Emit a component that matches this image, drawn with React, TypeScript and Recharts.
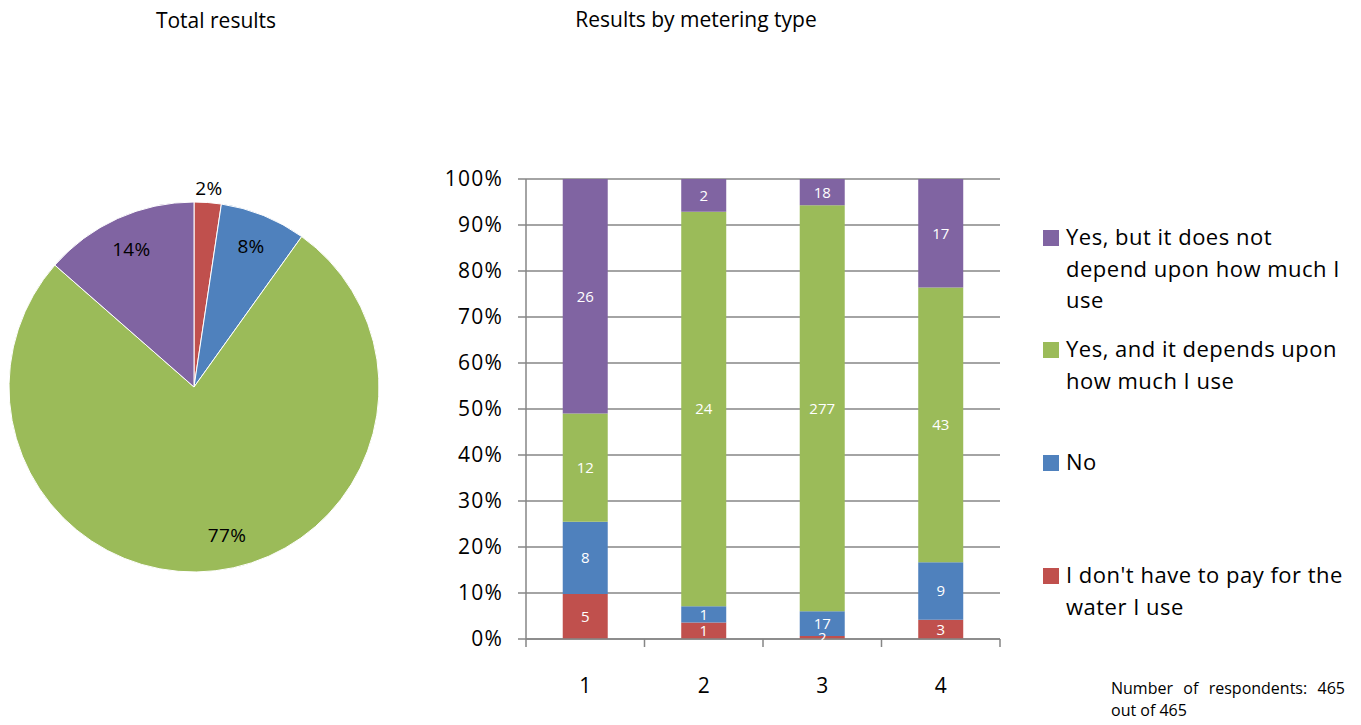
import React from "react";
import { PieChart, Pie, Cell, BarChart, Bar, XAxis, YAxis, CartesianGrid, LabelList } from "recharts";

const FONT = "'Open Sans', Lato, sans-serif";

const categories = ["1", "2", "3", "4"];
const noPay = [5, 1, 2, 3];
const no = [8, 1, 17, 9];
const yesDepends = [12, 24, 277, 43];
const yesNotDepends = [26, 2, 18, 17];

const seriesNames = [
  "Yes, but it does not depend upon how much I use",
  "Yes, and it depends upon how much I use",
  "No",
  "I don't have to pay for the water I use",
];

const pieLabels = ["2%", "8%", "77%", "14%"];

const COLORS = {
  noPay: "#C0504D",
  no: "#4F81BD",
  yesDepends: "#9BBB59",
  yesNotDepends: "#8064A2",
};

const barData = categories.map((c, i) => ({
  name: c,
  noPay: noPay[i],
  no: no[i],
  yesDepends: yesDepends[i],
  yesNotDepends: yesNotDepends[i],
}));

const sum = (a: number[]) => a.reduce((s, v) => s + v, 0);
const pieData = [
  { name: seriesNames[3], value: sum(noPay), color: COLORS.noPay },
  { name: seriesNames[2], value: sum(no), color: COLORS.no },
  { name: seriesNames[1], value: sum(yesDepends), color: COLORS.yesDepends },
  { name: seriesNames[0], value: sum(yesNotDepends), color: COLORS.yesNotDepends },
];

const RAD = Math.PI / 180;

// excel's best-fit puts the big slice label a bit off the mid angle
const renderPieLabel = (props: any) => {
  const { cx, cy, midAngle, outerRadius, percent, index } = props;
  const outside = percent < 0.05;
  const r = outside ? outerRadius + 15 : outerRadius * 0.82;
  const a = percent > 0.5 ? midAngle + 6 : midAngle;
  const x = cx + r * Math.cos(-a * RAD);
  const y = cy + r * Math.sin(-a * RAD);
  return (
    <text x={x} y={y} textAnchor="middle" dominantBaseline="central" fill="#000" fontSize={19} letterSpacing={0.3} fontFamily={FONT}>
      {pieLabels[index]}
    </text>
  );
};

const XTick = (props: any) => {
  const { x, y, payload, index } = props;
  const half = 474 / 4 / 2;
  return (
    <g>
      <line x1={x - half} y1={y - 8} x2={x - half} y2={y} stroke="#868686" strokeWidth={1.5} />
      {index === categories.length - 1 && (
        <line x1={x + half} y1={y - 8} x2={x + half} y2={y} stroke="#868686" strokeWidth={1.5} />
      )}
      <text x={x} y={y + 46} textAnchor="middle" fontSize={21} fill="#000" fontFamily={FONT}>
        {payload.value}
      </text>
    </g>
  );
};

const legendItems = [
  { text: ["Yes, but it does not", "depend upon how much I", "use"], color: COLORS.yesNotDepends, top: 222 },
  { text: ["Yes, and it depends upon", "how much I use"], color: COLORS.yesDepends, top: 334 },
  { text: ["No"], color: COLORS.no, top: 447 },
  { text: ["I don't have to pay for the", "water I use"], color: COLORS.noPay, top: 560 },
];

const labelStyle = { fill: "#fff", fontSize: 15, fontFamily: FONT };

export default function App() {
  return (
    <div style={{ position: "absolute", left: 0, top: 0, width: 1361, height: 725, background: "#fff", fontFamily: FONT, overflow: "hidden" }}>
      <div style={{ position: "absolute", left: 66, top: 6, width: 300, textAlign: "center", fontSize: 21, color: "#000" }}>
        Total results
      </div>
      <div style={{ position: "absolute", left: 546, top: 5, width: 300, textAlign: "center", fontSize: 21, color: "#000" }}>
        Results by metering type
      </div>

      <div style={{ position: "absolute", left: 0, top: 0 }}>
        <PieChart width={400} height={725} margin={{ top: 0, right: 0, bottom: 0, left: 0 }}>
          <Pie
            data={pieData}
            dataKey="value"
            cx={194}
            cy={387}
            outerRadius={185}
            startAngle={90}
            endAngle={-270}
            stroke="#fff"
            strokeWidth={1}
            label={renderPieLabel}
            labelLine={false}
            isAnimationActive={false}
          >
            {pieData.map((d) => (
              <Cell key={d.name} fill={d.color} />
            ))}
          </Pie>
        </PieChart>
      </div>

      <div style={{ position: "absolute", left: 420, top: 160 }}>
        <BarChart
          width={600}
          height={560}
          data={barData}
          stackOffset="expand"
          barCategoryGap="31%"
          margin={{ top: 19, right: 20, bottom: 21, left: 20 }}
        >
          <CartesianGrid vertical={false} stroke="#868686" strokeWidth={1.5} />
          <XAxis
            dataKey="name"
            height={60}
            axisLine={{ stroke: "#868686", strokeWidth: 1.5 }}
            tickLine={false}
            tick={<XTick />}
            interval={0}
          />
          <YAxis
            width={86}
            domain={[0, 1]}
            ticks={[0, 0.1, 0.2, 0.3, 0.4, 0.5, 0.6, 0.7, 0.8, 0.9, 1]}
            tickFormatter={(v: number) => `${Math.round(v * 100)}%`}
            axisLine={{ stroke: "#868686", strokeWidth: 1.5 }}
            tickLine={{ stroke: "#868686", strokeWidth: 1.5 }}
            tickSize={8}
            tickMargin={15}
            tick={{ fill: "#000", fontSize: 21, letterSpacing: 1.2, fontFamily: FONT }}
          />
          <Bar dataKey="noPay" stackId="a" fill={COLORS.noPay} isAnimationActive={false}>
            <LabelList dataKey="noPay" position="center" style={labelStyle} />
          </Bar>
          <Bar dataKey="no" stackId="a" fill={COLORS.no} isAnimationActive={false}>
            <LabelList dataKey="no" position="center" style={labelStyle} />
          </Bar>
          <Bar dataKey="yesDepends" stackId="a" fill={COLORS.yesDepends} isAnimationActive={false}>
            <LabelList dataKey="yesDepends" position="center" style={labelStyle} />
          </Bar>
          <Bar dataKey="yesNotDepends" stackId="a" fill={COLORS.yesNotDepends} isAnimationActive={false}>
            <LabelList dataKey="yesNotDepends" position="center" style={labelStyle} />
          </Bar>
        </BarChart>
      </div>

      {legendItems.map((item) => (
        <div key={item.color} style={{ position: "absolute", left: 1043, top: item.top }}>
          <div style={{ position: "absolute", left: 0, top: 8, width: 16, height: 16, background: item.color }} />
          <div style={{ position: "absolute", left: 23, top: -1, width: 300, fontSize: 22, letterSpacing: 0.5, lineHeight: "31.5px", color: "#000", whiteSpace: "nowrap" }}>
            {item.text.map((t) => (
              <div key={t}>{t}</div>
            ))}
          </div>
        </div>
      ))}

      <div style={{ position: "absolute", left: 1111, top: 677, width: 234, fontSize: 16, lineHeight: "22px", color: "#000" }}>
        <div style={{ textAlign: "justify", textAlignLast: "justify" }}>Number of respondents: 465</div>
        <div>out of 465</div>
      </div>
    </div>
  );
}
